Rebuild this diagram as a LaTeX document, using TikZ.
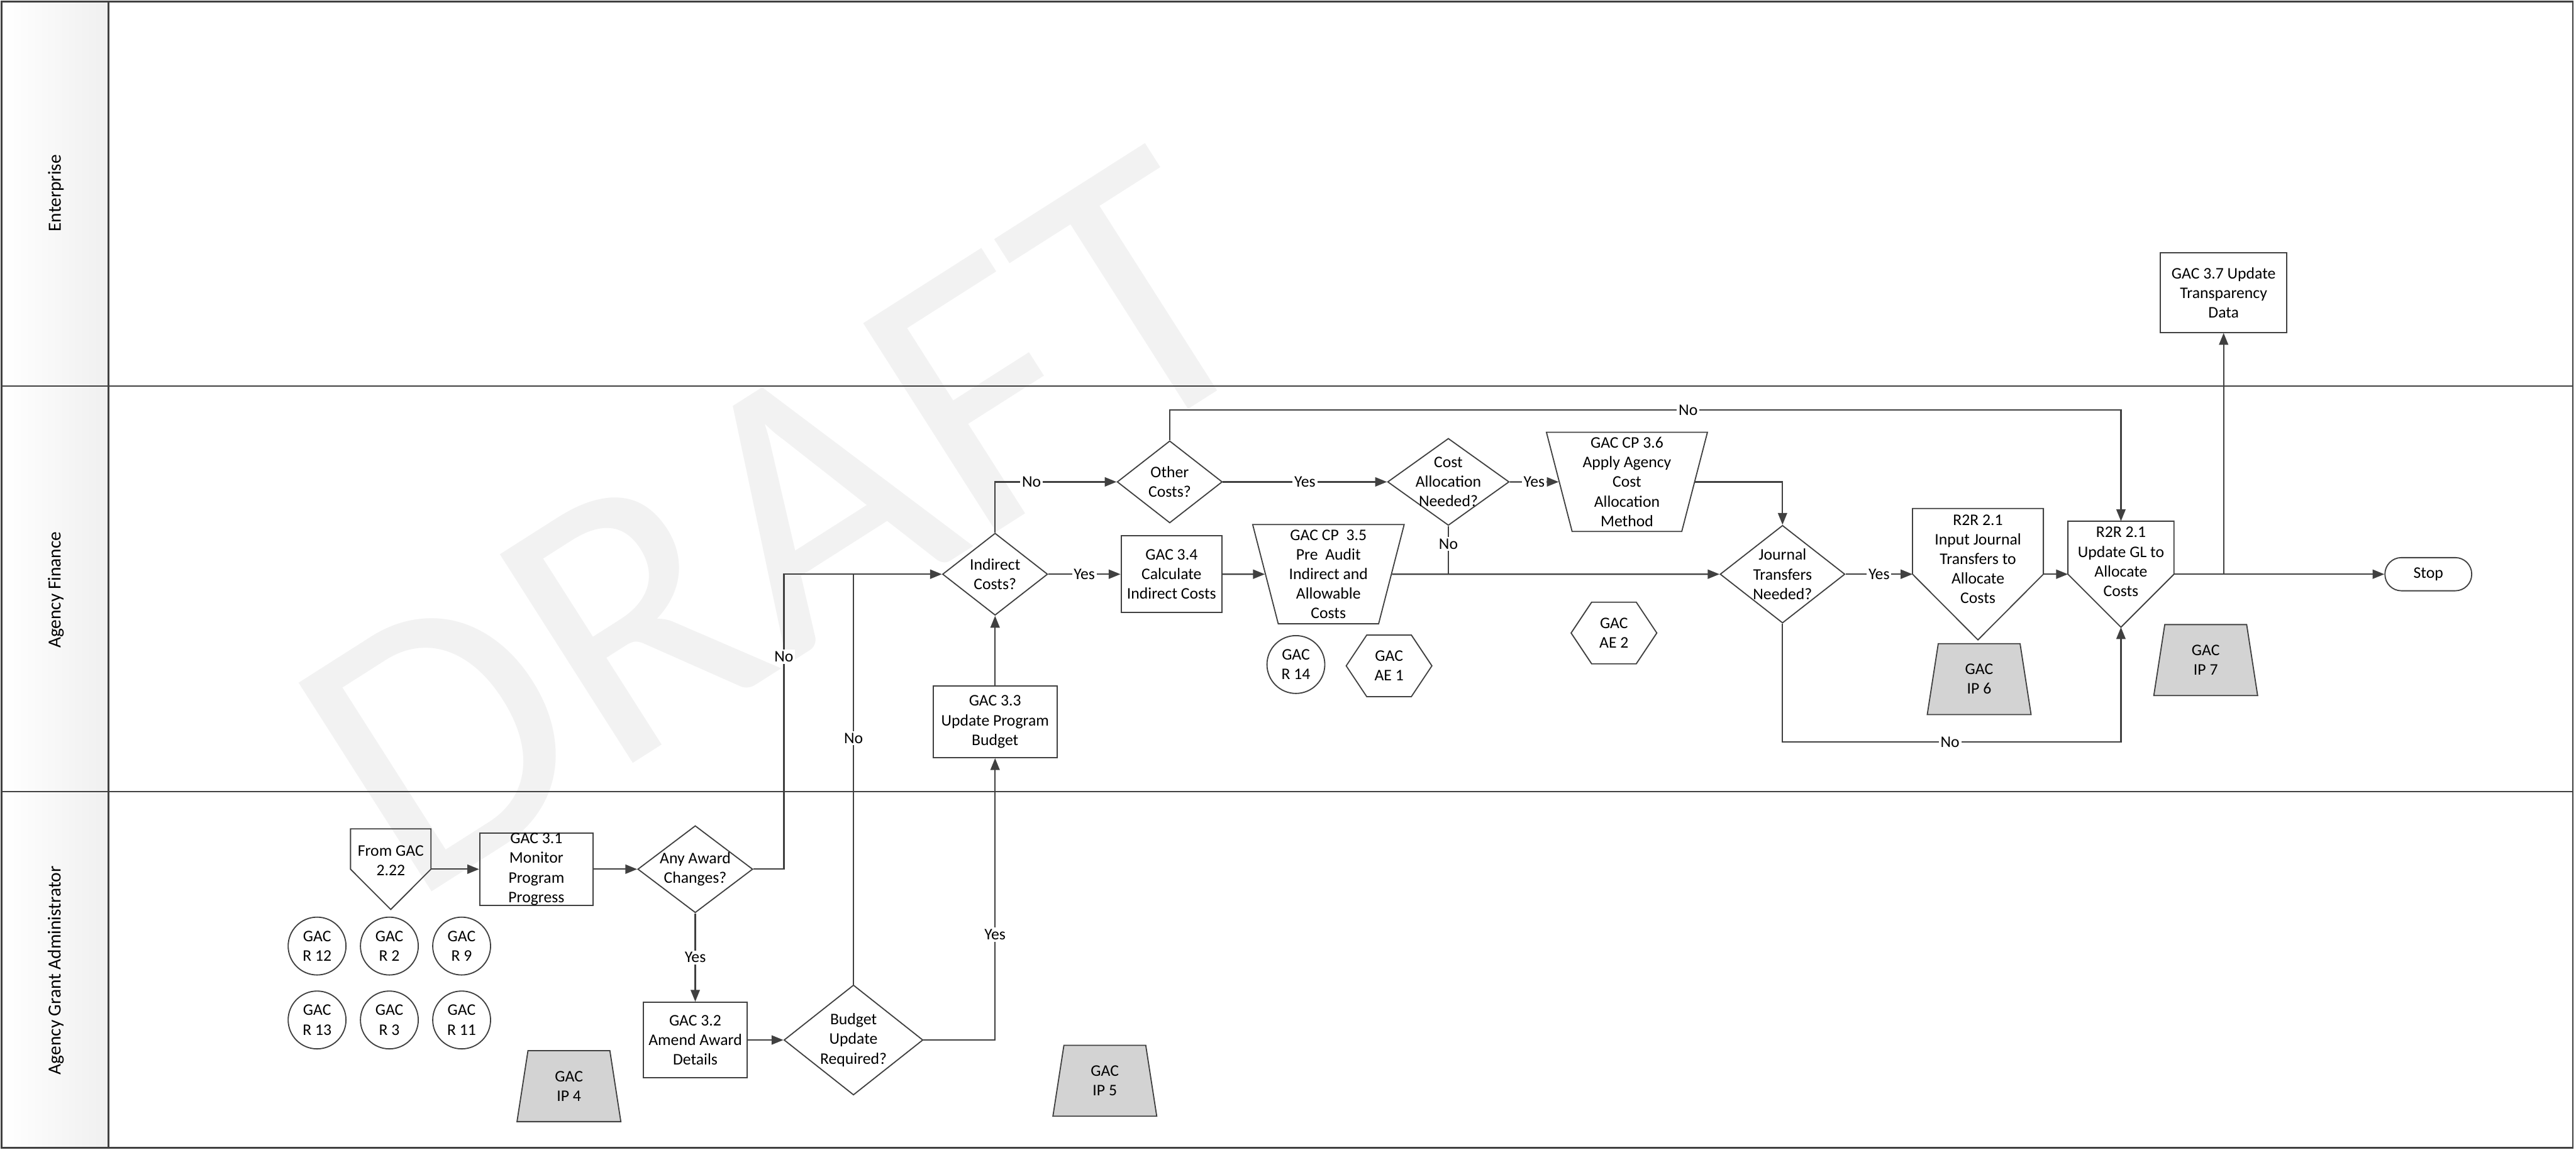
\documentclass[tikz,border=0pt]{standalone}
\usepackage{fontspec}
\setmainfont{Carlito}
\usetikzlibrary{shapes.geometric,arrows.meta,calc}

\newcommand{\fs}{\fontsize{7}{8.5}\selectfont}
\definecolor{lane}{RGB}{64,64,64}
\definecolor{wm}{RGB}{242,242,242}
\definecolor{ipfill}{RGB}{211,211,211}

\tikzset{
  procbox/.style={rectangle,draw=lane,line width=0.5pt,align=center,inner sep=0pt},
  decbox/.style={diamond,draw=lane,line width=0.5pt,inner sep=0pt},
  refcirc/.style={circle,draw=lane,line width=0.5pt,minimum size=0.88cm,inner sep=0pt,align=center},
  ipbox/.style={trapezium,trapezium left angle=70,trapezium right angle=70,trapezium stretches body,
    minimum width=1.58cm,minimum height=1.08cm,draw=lane,line width=0.5pt,fill=ipfill,align=center,inner sep=0pt},
  cpbox/.style={trapezium,trapezium left angle=74,trapezium right angle=74,shape border rotate=180,
    trapezium stretches body,minimum height=1.51cm,draw=lane,line width=0.5pt,align=center,inner sep=0pt},
  offpage/.style={rectangle,inner sep=0pt},
  hexbox/.style={rectangle,minimum width=1.29cm,minimum height=0.925cm,inner sep=0pt,align=center},
  stopbox/.style={rectangle,rounded corners=0.25cm,draw=lane,line width=0.5pt,minimum width=1.32cm,minimum height=0.505cm},
  yn/.style={fill=white,inner sep=0.8pt},
  conn/.style={draw=lane,line width=0.6pt},
  flow/.style={conn,->},
  lanelbl/.style={rotate=90,font=\fontsize{8}{9.6}\selectfont}
}

\begin{document}
\begin{tikzpicture}[font=\fs,>={Triangle[length=1.8mm,width=1.4mm]}]
  \useasboundingbox (0,0) rectangle (39.2,17.5);

  % swimlanes
  \shade[left color=white,right color=black!6] (0.05,0.03) rectangle (1.65,17.475);
  \node[rotate=32.5,anchor=base west,inner sep=0pt,text=wm,font=\fontsize{167}{167}\selectfont] (draft) at (6.225,3.71) {DRAFT};
  \draw[lane,line width=0.7pt] (0.025,0.03) rectangle (39.15,17.475);
  \draw[lane,line width=0.6pt] (1.65,0.03) -- (1.65,17.475);
  \draw[lane,line width=0.7pt] (0.025,11.625) -- (39.15,11.625);
  \draw[lane,line width=0.7pt] (0.025,5.45) -- (39.15,5.45);
  \node[lanelbl] (lblent) at (0.85,14.56) {Enterprise};
  \node[lanelbl] (lblfin) at (0.85,8.52) {Agency Finance};
  \node[lanelbl] (lblgrant) at (0.85,2.73) {Agency Grant Administrator};

  % Enterprise
  \node[procbox,minimum width=1.925cm,minimum height=1.21cm] (gac37) at (33.8375,13.045) {GAC 3.7 Update\\Transparency\\Data};

  % Agency Finance
  \node[decbox,minimum width=1.6cm,minimum height=1.25cm,label={[align=center]center:Indirect\\Costs?}] (indirect) at (15.1425,8.76) {};
  \node[decbox,minimum width=1.6cm,minimum height=1.25cm,label={[align=center]center:Other\\Costs?}] (other) at (17.8,10.165) {};
  \node[decbox,minimum width=1.85cm,minimum height=1.325cm,label={[align=center]center:Cost\\Allocation\\Needed?}] (costalloc) at (22.04,10.165) {};
  \node[cpbox,minimum width=2.45cm] (cp36) at (24.7575,10.165) {GAC CP 3.6\\Apply Agency\\Cost\\Allocation\\Method};
  \node[procbox,minimum width=1.535cm,minimum height=1.1675cm] (gac34) at (17.8275,8.76) {GAC 3.4\\Calculate\\Indirect Costs};
  \node[cpbox,minimum width=2.305cm] (cp35) at (20.215,8.76) {GAC CP\ \ 3.5\\Pre\ \ Audit\\Indirect and\\Allowable\\Costs};
  \node[refcirc] (r14) at (19.72,7.385) {GAC\\R 14};
  \node[hexbox] (ae1) at (21.1375,7.365) {GAC\\AE 1};
  \node[hexbox] (ae2) at (24.56,7.865) {GAC\\AE 2};
  \node[decbox,minimum width=1.9cm,minimum height=1.4875cm,label={[align=center]center:Journal\\Transfers\\Needed?}] (journal) at (27.125,8.76) {};
  \node[offpage,minimum width=1.9775cm,minimum height=1.985cm,label={[align=center,yshift=0.23cm]center:R2R 2.1\\Input Journal\\Transfers to\\Allocate\\Costs}] (jinput) at (30.099,8.76) {};
  \node[offpage,minimum width=1.6cm,minimum height=1.6cm,label={[align=center,yshift=0.19cm]center:R2R 2.1\\Update GL to\\Allocate\\Costs}] (updgl) at (32.275,8.76) {};
  \node[ipbox] (ip6) at (30.1175,7.1625) {GAC\\IP 6};
  \node[ipbox] (ip7) at (33.565,7.4525) {GAC\\IP 7};
  \node[stopbox] (stop) at (36.9525,8.76) {Stop};
  \node[procbox,minimum width=1.8875cm,minimum height=1.0875cm] (gac33) at (15.1425,6.5125) {GAC 3.3\\Update Program\\Budget};

  % Agency Grant Administrator
  \node[offpage,minimum width=1.21cm,minimum height=1.2125cm,label={[align=center,yshift=0.13cm]center:From GAC\\2.22}] (fromgac) at (5.946,4.27) {};
  \node[procbox,minimum width=1.725cm,minimum height=1.1cm] (gac31) at (8.1625,4.27) {GAC 3.1\\Monitor\\Program\\Progress};
  \node[decbox,minimum width=1.75cm,minimum height=1.325cm,label={[align=center]center:Any Award\\Changes?}] (anyaward) at (10.58,4.27) {};
  \node[procbox,minimum width=1.585cm,minimum height=1.15cm] (gac32) at (10.58,1.67) {GAC 3.2\\Amend Award\\Details};
  \node[decbox,minimum width=2.115cm,minimum height=1.675cm,label={[align=center]center:Budget\\Update\\Required?}] (budget) at (12.9875,1.67) {};
  \foreach \name/\x/\y/\num in {r12/4.825/3.1/12,r2/5.925/3.1/2,r9/7.025/3.1/9,r13/4.825/1.975/13,r3/5.925/1.975/3,r11/7.025/1.975/11}
    \node[refcirc] (\name) at (\x,\y) {GAC\\R \num};
  \node[ipbox] (ip4) at (8.6575,0.9675) {GAC\\IP 4};
  \node[ipbox] (ip5) at (16.8125,1.05) {GAC\\IP 5};

  % outlines of off-page and hexagon shapes
  \foreach \n in {fromgac,jinput,updgl}
    \draw[draw=lane,line width=0.5pt] (\n.north west) -- (\n.north east) -- (\n.east) -- (\n.south) -- (\n.west) -- cycle;
  \foreach \n in {ae1,ae2}
    \draw[draw=lane,line width=0.5pt] (\n.west) -- ($(\n.north west)!0.24!(\n.north east)$) -- ($(\n.north east)!0.24!(\n.north west)$)
      -- (\n.east) -- ($(\n.south east)!0.24!(\n.south west)$) -- ($(\n.south west)!0.24!(\n.south east)$) -- cycle;

  % connectors
  \draw[flow] (fromgac.east) -- (gac31.west);
  \draw[flow] (gac31.east) -- (anyaward.west);
  \draw[flow] (anyaward.east) -- ++(0.465,0) |- node[yn,pos=0.36] {No} (indirect.west);
  \draw[flow] (anyaward.south) -- node[yn] {Yes} (gac32.north);
  \draw[flow] (gac32.east) -- (budget.west);
  \draw[conn] (budget.north) -- node[yn,pos=0.6] {No} (budget.north |- indirect.west);
  \draw[flow] (budget.east) -| node[yn,pos=0.687] {Yes} (gac33.south);
  \draw[flow] (gac33.north) -- (indirect.south);
  \draw[flow] (indirect.north) |- node[yn,pos=0.65] {No} (other.west);
  \draw[flow] (indirect.east) -- node[yn] {Yes} (gac34.west);
  \draw[flow] (gac34.east) -- (cp35);
  \draw[flow] (other.east) -- node[yn] {Yes} (costalloc.west);
  \draw[flow] (costalloc.east) -- node[yn] {Yes} (cp36);
  \draw[flow] (cp36) -| (journal.north);
  \draw[flow] (cp35) -- (journal.west);
  \draw[conn] (costalloc.south) -- node[yn,pos=0.37] {No} (costalloc.south |- cp35.center);
  \draw[flow] (other.north) -- ++(0,0.46) -| node[yn,pos=0.2725] {No} (updgl.north);
  \draw[flow] (journal.east) -- node[yn] {Yes} (jinput.west);
  \draw[flow] (jinput.east) -- (updgl.west);
  \draw[flow] (journal.south) -- ++(0,-1.8) -| node[yn,pos=0.2475] {No} (updgl.south);
  \draw[flow] (updgl.east) -- (stop.west);
  \draw[flow] (updgl.east -| gac37.south) -- (gac37.south);
\end{tikzpicture}
\end{document}
